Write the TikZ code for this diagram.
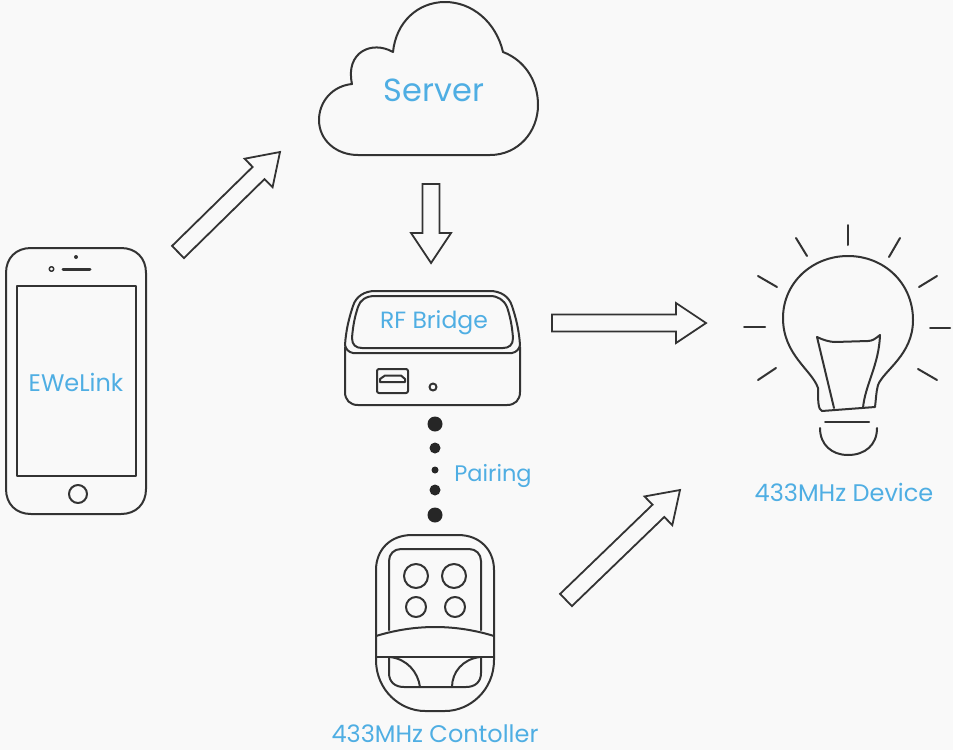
\documentclass[tikz,border=0pt]{standalone}
\usepackage{fontspec}
\setmainfont{Poppins}
\usetikzlibrary{calc}
\definecolor{bgc}{HTML}{F9F9F9}
\definecolor{ink}{HTML}{333333}
\definecolor{sky}{HTML}{4FAEE3}
\tikzset{
  outline/.style={draw=ink,line width=2pt,line join=round,line cap=round},
  thinline/.style={draw=ink,line width=1.5pt,line join=round,line cap=round},
  hollowline/.style={draw=ink,line width=1.8pt,line join=miter,fill=none},
  label/.style={text=sky,inner sep=0pt,anchor=center},
  dotnode/.style={circle,fill=black!85,inner sep=0pt,minimum size=#1}
}
\newcommand{\hollowarrow}[2]{%
  \coordinate (base) at ($(#2)!30pt!(#1)$);
  \draw[hollowline]
    ($(#1)!8.5pt!90:(#2)$) -- ($(base)!8.5pt!90:(#2)$) -- ($(base)!20pt!90:(#2)$) -- (#2)
    -- ($(base)!20pt!-90:(#2)$) -- ($(base)!8.5pt!-90:(#2)$) -- ($(#1)!8.5pt!-90:(#2)$) -- cycle;}
\begin{document}
\begin{tikzpicture}[x=1pt,y=-1pt]
\useasboundingbox (0,0) rectangle (953,750);
\fill[bgc] (0,0) rectangle (953,750);
% cloud
\draw[outline] (358,155) -- (490,155)
  .. controls (518,155) and (538,132) .. (538,105)
  .. controls (538,80) and (524,60) .. (503,52)
  .. controls (496,22) and (472,2) .. (445,2)
  .. controls (418,2) and (396,22) .. (393,52)
  .. controls (372,40) and (345,52) .. (352,84)
  .. controls (332,86) and (319,102) .. (319,120)
  .. controls (319,140) and (336,155) .. (358,155) -- cycle;
\node[label,font=\fontsize{32}{32}\selectfont] (server) at (434,90) {Server};
% phone
\draw[outline] (6,273) .. controls (6,258) and (16,248) .. (31,248) -- (121,248)
  .. controls (136,248) and (146,258) .. (146,273) -- (146,489)
  .. controls (146,504) and (136,514) .. (121,514) -- (31,514)
  .. controls (16,514) and (6,504) .. (6,489) -- cycle;
\draw[outline] (17,286) rectangle (136,476);
\draw[draw=ink,line width=3pt,line cap=round] (63,269) -- (90,269);
\draw[thinline] (51.5,269) circle (2.3);
\fill[ink] (76,257) circle (2);
\draw[outline] (78,494) circle (9);
\node[label,font=\fontsize{24}{24}\selectfont] (ewelink) at (76,382) {EWeLink};
% RF bridge
\draw[outline] (345,347) -- (345,392) .. controls (345,400) and (350,405) .. (358,405)
  -- (507,405) .. controls (515,405) and (520,400) .. (520,392) -- (520,347);
\draw[outline] (345,345) .. controls (346,330) and (349,318) .. (353,306)
  .. controls (356,296) and (365,291) .. (375,291) -- (490,291)
  .. controls (500,291) and (509,296) .. (512,306)
  .. controls (516,318) and (519,330) .. (520,345)
  .. controls (519,349) and (517,352) .. (512,353) -- (353,353)
  .. controls (348,352) and (346,349) .. (345,345) -- cycle;
\draw[outline] (352,338) .. controls (353,325) and (355,316) .. (358,307)
  .. controls (360,300) and (366,296) .. (375,296) -- (490,296)
  .. controls (498,296) and (504,300) .. (507,307)
  .. controls (510,316) and (512,325) .. (513,338)
  .. controls (513,345) and (509,348) .. (503,348) -- (362,348)
  .. controls (356,348) and (352,345) .. (352,338) -- cycle;
\draw[outline,rounded corners=2pt] (377,369) rectangle (408,393);
\draw[outline] (380,382) -- (380,379) -- (385,375.5) -- (401,375.5) -- (405,379) -- (405,382) -- cycle;
\draw[outline] (433,387) circle (3.5);
\node[label,font=\fontsize{23.5}{23.5}\selectfont] (rf) at (434,323) {RF Bridge};
% pairing dots
\node[dotnode=15pt] (d1) at (435,424) {};
\node[dotnode=11pt] (d2) at (435,448) {};
\node[dotnode=7pt] (d3) at (435,470) {};
\node[dotnode=11pt] (d4) at (435,490) {};
\node[dotnode=15pt] (d5) at (435,515) {};
\node[label,font=\fontsize{22.5}{22.5}\selectfont] (pairing) at (493,476) {Pairing};
% remote
\draw[outline] (376,570) .. controls (376,550) and (390,535) .. (412,535) -- (458,535)
  .. controls (480,535) and (494,550) .. (494,570) -- (494,660)
  .. controls (494,690) and (470,711) .. (445,711) -- (425,711)
  .. controls (400,711) and (376,690) .. (376,660) -- cycle;
\draw[outline] (389,630) -- (389,561) .. controls (389,554) and (394,549) .. (401,549) -- (469,549)
  .. controls (476,549) and (481,554) .. (481,561) -- (481,630);
\draw[outline] (376,636) .. controls (415,624) and (455,624) .. (494,636);
\draw[outline] (376,657) -- (494,657);
\draw[outline] (389,657) -- (389,673) .. controls (389,682) and (395,687) .. (404,687) -- (466,687)
  .. controls (475,687) and (481,682) .. (481,673) -- (481,657);
\draw[outline] (390,657) .. controls (407,659) and (418,672) .. (420,687);
\draw[outline] (480,657) .. controls (463,659) and (452,672) .. (452,687);
\draw[outline] (416,576) circle (12);
\draw[outline] (454,576) circle (12);
\draw[outline] (416,607) circle (10);
\draw[outline] (455,607) circle (10);
\node[label,font=\fontsize{24}{24}\selectfont] (ctrl) at (435,734) {433MHz Contoller};
% bulb
\draw[outline] (818,388) .. controls (812,370) and (783,355) .. (783,318)
  .. controls (783,283) and (812,256) .. (848,256)
  .. controls (884,256) and (913,283) .. (913,320)
  .. controls (913,355) and (884,370) .. (878,385)
  .. controls (876,392) and (876,400) .. (875,407)
  -- (822,411) .. controls (818,410) and (818,400) .. (818,388) -- cycle;
\draw[outline] (834,408) -- (817,337) .. controls (823,340) and (830,342) .. (835,342)
  -- (868,341) .. controls (873,341) and (876,338) .. (880,335)
  .. controls (879,365) and (865,385) .. (863,408);
\draw[outline] (825,422) -- (869,422);
\draw[outline] (820,428) .. controls (820,445) and (832,455) .. (848,455)
  .. controls (865,455) and (877,445) .. (877,428);
\foreach \a/\b/\c/\d in {848/225/848/245, 796/238/807/256, 758/276/777/287, 744/327/765/327, 758/380/776/368, 900/238/889/257, 937/276/919/287, 930/328/950/328, 937/380/918/369}
  \draw[outline] (\a,\b) -- (\c,\d);
\node[label,font=\fontsize{24}{24}\selectfont] (device) at (844,492) {433MHz Device};
% arrows
\coordinate (a1s) at (178,252); \coordinate (a1t) at (280,152);
\coordinate (a2s) at (431,184); \coordinate (a2t) at (431,263);
\coordinate (a3s) at (552,323); \coordinate (a3t) at (706,323);
\coordinate (a4s) at (566,600); \coordinate (a4t) at (680,490);
\hollowarrow{a1s}{a1t}
\hollowarrow{a2s}{a2t}
\hollowarrow{a3s}{a3t}
\hollowarrow{a4s}{a4t}
\end{tikzpicture}
\end{document}
